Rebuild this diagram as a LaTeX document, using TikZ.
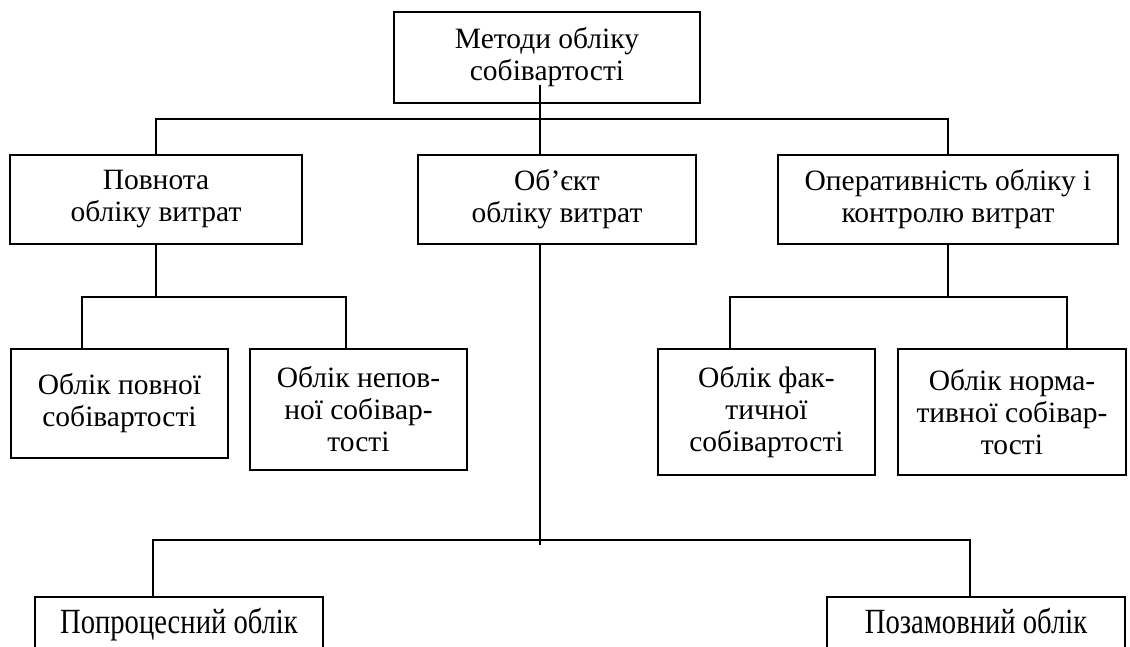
\documentclass[tikz,border=0pt]{standalone}
\usepackage{fontspec}
\setmainfont{Liberation Serif}
\usetikzlibrary{calc}
\newcommand{\boxfont}{\fontsize{29.5pt}{32pt}\selectfont}
\begin{document}
\begin{tikzpicture}[x=1pt,y=-1pt,
  box/.style={draw, line width=1.4pt, inner sep=0pt, align=center, font=\boxfont},
  link/.style={line width=1.4pt}]
\clip (0,0) rectangle (1130,646);
\fill[white] (0,0) rectangle (1130,646);

% top level
\node[box, minimum width=306pt, minimum height=91pt] (top) at (547,57.5)
  {Методи обліку\\собівартості};

% second level
\node[box, minimum width=292pt, minimum height=89pt] (P) at (156,199.5)
  {Повнота\\обліку витрат};
\node[box, minimum width=278pt, minimum height=89pt] (O) at (557,199.5)
  {Об’єкт\\обліку витрат};
\node[box, minimum width=340pt, minimum height=89pt] (R) at (948,199.5)
  {Оперативність обліку і\\контролю витрат};

% third level, left branch
\node[box, minimum width=217pt, minimum height=109pt] (A) at (119.5,403.5)
  {Облік повної\\собівартості};
\node[box, minimum width=217pt, minimum height=121pt] (B) at (358.5,409.5)
  {Облік непов-\\ної собівар-\\тості};

% third level, right branch
\node[box, minimum width=217pt, minimum height=126pt] (C) at (766.5,412)
  {Облік фак-\\тичної\\собівартості};
\node[box, minimum width=228pt, minimum height=126pt] (D) at (1012,412)
  {Облік норма-\\тивної собівар-\\тості};

% bottom level (text sits near the top of the box)
\node[box, minimum width=288pt, minimum height=123pt] (E) at (179,658.5)
  {\parbox[c][100pt][t]{280pt}{\centering\scalebox{0.97}[1.2]{Попроцесний облік}}};
\node[box, minimum width=298pt, minimum height=123pt] (F) at (976,658.5)
  {\parbox[c][100pt][t]{290pt}{\centering\scalebox{0.97}[1.2]{Позамовний облік}}};

% connector coordinates
\coordinate (t0) at (540,85);
\coordinate (bus0) at (540,119);
\coordinate (b1L) at (82,297);
\coordinate (b1R) at (346,297);
\coordinate (b2L) at (730,297);
\coordinate (b2R) at (1067,297);
\coordinate (b3L) at (153,540);
\coordinate (b3R) at (970,540);
\coordinate (b3end) at (540,545);

% connectors
\draw[link] (t0) -- (O.north -| t0);
\draw[link] (P.north) |- (bus0) -| (R.north);

\draw[link] (P.south) -- (P.south |- b1L);
\draw[link] (A.north -| b1L) |- (b1R) -- (B.north -| b1R);

\draw[link] (R.south) -- (R.south |- b2L);
\draw[link] (C.north -| b2L) |- (b2R) -- (D.north -| b2R);

\draw[link] (O.south -| b3end) -- (b3end);
\draw[link] (E.north -| b3L) |- (b3R) -- (F.north -| b3R);
\end{tikzpicture}
\end{document}
